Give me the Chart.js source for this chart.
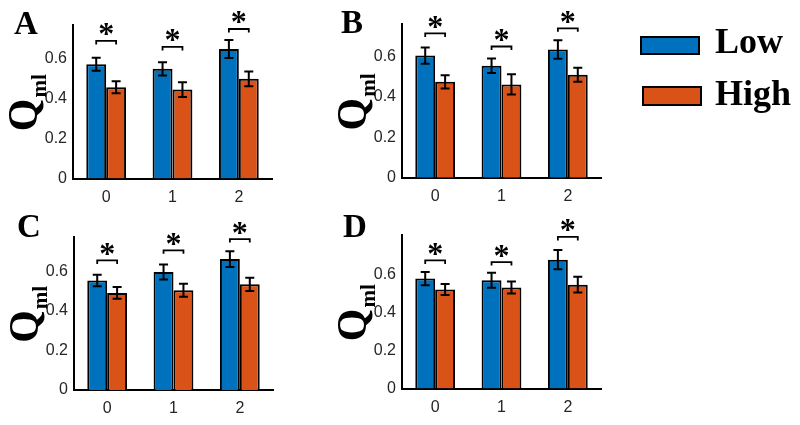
<!DOCTYPE html>
<html>
<head>
<meta charset="utf-8">
<script src="https://cdn.jsdelivr.net/npm/chart.js@4"></script>
<style>
  body { margin: 0; background: #fff; }
  #wrap { position: relative; width: 800px; height: 425px; overflow: hidden; }
  #wrap canvas { position: absolute; left: 0; top: 0; }
  .key { position: absolute; box-sizing: border-box; width: 60px; border: 2px solid #000; }
  .keyText { position: absolute; font: bold 36px "Liberation Serif", "Times New Roman", serif; line-height: 1; color: #000; }
</style>
</head>
<body>
<div id="wrap">
  <canvas id="chartA" width="800" height="425"></canvas>
  <canvas id="chartB" width="800" height="425"></canvas>
  <canvas id="chartC" width="800" height="425"></canvas>
  <canvas id="chartD" width="800" height="425"></canvas>
  <div class="key" style="left:640px; top:36px; height:19px; background:rgb(0,114,189);"></div>
  <div class="keyText" style="left:715px; top:23px;">Low</div>
  <div class="key" style="left:642px; top:86px; height:20px; background:rgb(217,83,25);"></div>
  <div class="keyText" style="left:715px; top:75px;">High</div>
</div>
<script>
// data
const categories = ['0', '1', '2'];
const seriesNames = ['Low', 'High'];
const yTicks = [0, 0.2, 0.4, 0.6];

const lowA = [0.573, 0.550, 0.650];
const highA = [0.458, 0.446, 0.500];
const lowErrA = [0.033, 0.033, 0.045];
const highErrA = [0.030, 0.037, 0.037];
const sigA = [0.69, 0.66, 0.75];

const lowB = [0.605, 0.555, 0.635];
const highB = [0.475, 0.462, 0.510];
const lowErrB = [0.040, 0.036, 0.046];
const highErrB = [0.033, 0.050, 0.035];
const sigB = [0.715, 0.65, 0.74];

const lowC = [0.554, 0.596, 0.662];
const highC = [0.491, 0.504, 0.534];
const lowErrC = [0.029, 0.038, 0.040];
const highErrC = [0.030, 0.033, 0.034];
const sigC = [0.655, 0.706, 0.763];

const lowD = [0.580, 0.571, 0.680];
const highD = [0.522, 0.533, 0.548];
const lowErrD = [0.035, 0.040, 0.051];
const highErrD = [0.029, 0.032, 0.042];
const sigD = [0.676, 0.667, 0.80];

const yMax = [0.77, 0.76, 0.775, 0.81];

const colors = ['rgb(0,114,189)', 'rgb(217,83,25)'];
const serif = '"Liberation Serif", "Times New Roman", serif';
const sans = '"Liberation Sans", Arial, sans-serif';

// where each panel's plot box sits on the 800x425 page
const panels = [
    { id: 'chartA', name: 'A', low: lowA, high: highA, lowErr: lowErrA, highErr: highErrA, sig: sigA, max: yMax[0],
      box: { left: 73, top: 25, right: 272, bottom: 178.5 }, letter: { x: 14, y: 34 } },
    { id: 'chartB', name: 'B', low: lowB, high: highB, lowErr: lowErrB, highErr: highErrB, sig: sigB, max: yMax[1],
      box: { left: 402, top: 24.3, right: 601, bottom: 177.7 }, letter: { x: 341, y: 33 } },
    { id: 'chartC', name: 'C', low: lowC, high: highC, lowErr: lowErrC, highErr: highErrC, sig: sigC, max: yMax[2],
      box: { left: 74, top: 236.7, right: 273, bottom: 390 }, letter: { x: 17, y: 237 } },
    { id: 'chartD', name: 'D', low: lowD, high: highD, lowErr: lowErrD, highErr: highErrD, sig: sigD, max: yMax[3],
      box: { left: 402, top: 235, right: 601, bottom: 388.5 }, letter: { x: 343, y: 237 } }
];

// error bars, significance brackets, panel letter and the Q_ml label
const decor = {
    id: 'decor',
    afterDraw(chart) {
        const p = chart.options.plugins.decor;
        const ctx = chart.ctx;
        const yScale = chart.scales.y;
        const area = chart.chartArea;
        ctx.save();
        ctx.strokeStyle = '#000';
        ctx.fillStyle = '#000';

        // error bars
        ctx.lineWidth = 2;
        [p.lowErr, p.highErr].forEach((errs, di) => {
            const meta = chart.getDatasetMeta(di);
            const vals = chart.data.datasets[di].data;
            meta.data.forEach((bar, j) => {
                const yTop = yScale.getPixelForValue(vals[j] + errs[j]);
                const yBot = yScale.getPixelForValue(vals[j] - errs[j]);
                ctx.beginPath();
                ctx.moveTo(bar.x, yTop); ctx.lineTo(bar.x, yBot);
                ctx.moveTo(bar.x - 4.5, yTop); ctx.lineTo(bar.x + 4.5, yTop);
                ctx.moveTo(bar.x - 4.5, yBot); ctx.lineTo(bar.x + 4.5, yBot);
                ctx.stroke();
            });
        });

        // brackets with asterisks
        const m0 = chart.getDatasetMeta(0);
        const m1 = chart.getDatasetMeta(1);
        ctx.lineWidth = 1.8;
        ctx.font = 'bold 32px ' + serif;
        ctx.textAlign = 'center';
        ctx.textBaseline = 'alphabetic';
        p.sig.forEach((s, j) => {
            const x1 = m0.data[j].x;
            const x2 = m1.data[j].x;
            const y = yScale.getPixelForValue(s);
            ctx.beginPath();
            ctx.moveTo(x1, y + 3.5); ctx.lineTo(x1, y); ctx.lineTo(x2, y); ctx.lineTo(x2, y + 3.5);
            ctx.stroke();
            const tm = ctx.measureText('*');
            const cy = y - 11.5;
            ctx.fillText('*', (x1 + x2) / 2, cy + (tm.actualBoundingBoxAscent - tm.actualBoundingBoxDescent) / 2);
        });

        // panel letter
        ctx.textAlign = 'left';
        ctx.font = 'bold 33px ' + serif;
        ctx.fillText(p.name, p.letter.x, p.letter.y);

        // rotated Q with subscript ml
        const mid = (area.top + area.bottom) / 2 + 1.5;
        ctx.translate(area.left - 36, mid);
        ctx.rotate(-Math.PI / 2);
        ctx.font = 'bold 42px ' + serif;
        const wQ = ctx.measureText('Q').width;
        ctx.font = 'bold 21px ' + serif;
        const wSub = ctx.measureText('ml').width;
        const start = -(wQ + wSub) / 2;
        ctx.font = 'bold 42px ' + serif;
        ctx.fillText('Q', start, 0);
        ctx.font = 'bold 21px ' + serif;
        ctx.fillText('ml', start + wQ + 1, 9);
        ctx.restore();
    }
};

function makePanel(p) {
    const ctx = document.getElementById(p.id).getContext('2d');
    return new Chart(ctx, {
        type: 'bar',
        data: {
            labels: categories,
            datasets: [
                { label: seriesNames[0], data: p.low, backgroundColor: colors[0], borderColor: '#000', borderWidth: 2 },
                { label: seriesNames[1], data: p.high, backgroundColor: colors[1], borderColor: '#000', borderWidth: 2 }
            ]
        },
        options: {
            responsive: false,
            animation: false,
            events: [],
            layout: {
                padding: { left: 0, top: p.box.top, right: 800 - p.box.right, bottom: 0 }
            },
            datasets: {
                bar: { categoryPercentage: 0.6, barPercentage: 1.0 }
            },
            plugins: {
                legend: { display: false },
                tooltip: { enabled: false },
                decor: p
            },
            scales: {
                x: {
                    grid: { display: false, drawTicks: false },
                    border: { display: true, color: '#000', width: 2 },
                    ticks: { color: '#262626', padding: 9, font: { family: sans, size: 16 } },
                    afterFit(scale) { scale.height = 425 - p.box.bottom; }
                },
                y: {
                    min: 0,
                    max: p.max,
                    grid: { display: false, drawTicks: false },
                    border: { display: true, color: '#000', width: 2 },
                    afterBuildTicks(scale) { scale.ticks = yTicks.map(v => ({ value: v })); },
                    ticks: {
                        color: '#262626',
                        padding: 6,
                        font: { family: sans, size: 16 },
                        callback: v => (v === 0 ? '0' : v.toFixed(1))
                    },
                    afterFit(scale) { scale.width = p.box.left; }
                }
            }
        },
        plugins: [decor]
    });
}

panels.forEach(makePanel);
</script>
</body>
</html>
